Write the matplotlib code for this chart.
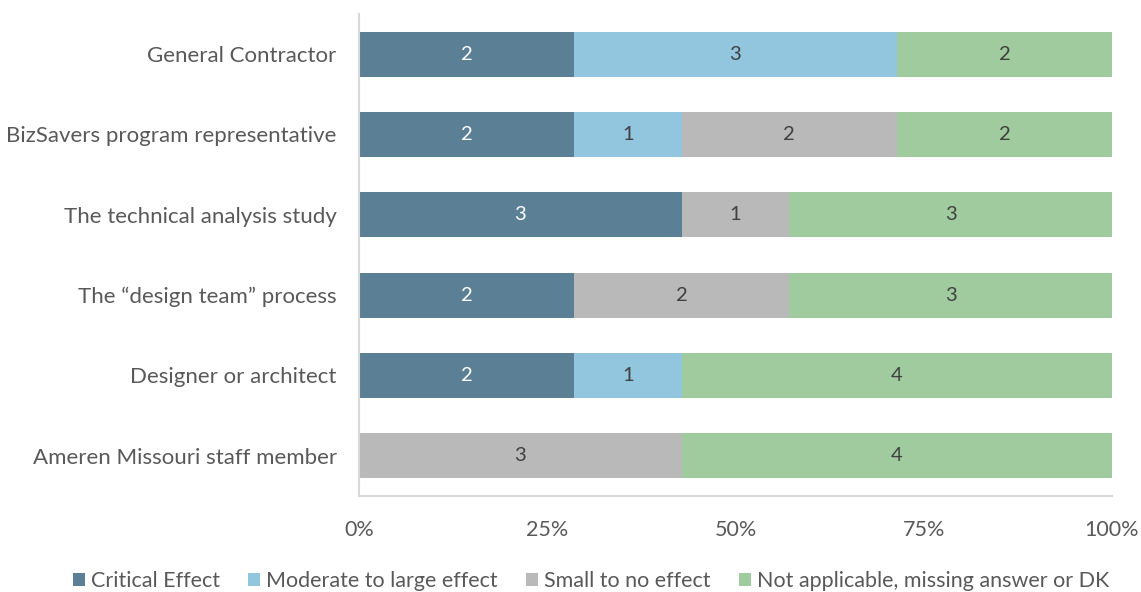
import matplotlib
matplotlib.use("Agg")
import matplotlib.pyplot as plt
from matplotlib.patches import Patch
import numpy as np

plt.rcParams['font.family'] = ['Lato', 'DejaVu Sans']

categories = [
    "General Contractor",
    "BizSavers program representative",
    "The technical analysis study",
    "The \u201cdesign team\u201d process",
    "Designer or architect",
    "Ameren Missouri staff member",
]
series_names = [
    "Critical Effect",
    "Moderate to large effect",
    "Small to no effect",
    "Not applicable, missing answer or DK",
]
critical = [2, 2, 3, 2, 2, 0]
moderate = [3, 1, 0, 0, 1, 0]
small = [0, 2, 1, 2, 0, 3]
not_applicable = [2, 2, 3, 3, 4, 4]
xtick_labels = ["0%", "25%", "50%", "75%", "100%"]

colors = ["#5B7F94", "#92C5DE", "#B9B9B9", "#A0CB9F"]
text_colors = ["white", "#404040", "#404040", "#404040"]

data = np.array([critical, moderate, small, not_applicable], dtype=float)
totals = data.sum(axis=0)
shares = data / totals

fig = plt.figure(figsize=(11.41, 5.92), dpi=100)
ax = fig.add_axes([0.3146, 0.1622, 0.66, 0.8142])

y = np.arange(len(categories))
left = np.zeros(len(categories))
for i in range(4):
    ax.barh(y, shares[i], left=left, height=0.56, color=colors[i], label=series_names[i])
    for j in range(len(categories)):
        if data[i, j] > 0:
            ax.text(left[j] + shares[i, j] / 2, y[j], f"{int(data[i, j])}",
                    ha="center", va="center", color=text_colors[i], fontsize=14.5)
    left += shares[i]

ax.set_ylim(len(categories) - 0.5, -0.5)
ax.set_xlim(0, 1)
ax.set_yticks(y)
ax.set_yticklabels(categories, fontsize=16, color="#595959")
ax.set_xticks([0, 0.25, 0.5, 0.75, 1.0])
ax.set_xticklabels(xtick_labels, fontsize=15.5, color="#595959")
ax.tick_params(axis="both", length=0)
ax.tick_params(axis="y", pad=16)
ax.tick_params(axis="x", pad=17)

for side in ["top", "right"]:
    ax.spines[side].set_visible(False)
for side in ["left", "bottom"]:
    ax.spines[side].set_color("#D9D9D9")
    ax.spines[side].set_linewidth(1.5)

handles = [Patch(facecolor=c, edgecolor="none") for c in colors]
fig.legend(handles, series_names, loc="center", bbox_to_anchor=(0.518, 0.018),
           ncol=4, frameon=False, fontsize=15.5, labelcolor="#595959",
           handlelength=0.55, handleheight=0.55, handletextpad=0.3, columnspacing=1.3)

fig.savefig("out.png", dpi=100)
